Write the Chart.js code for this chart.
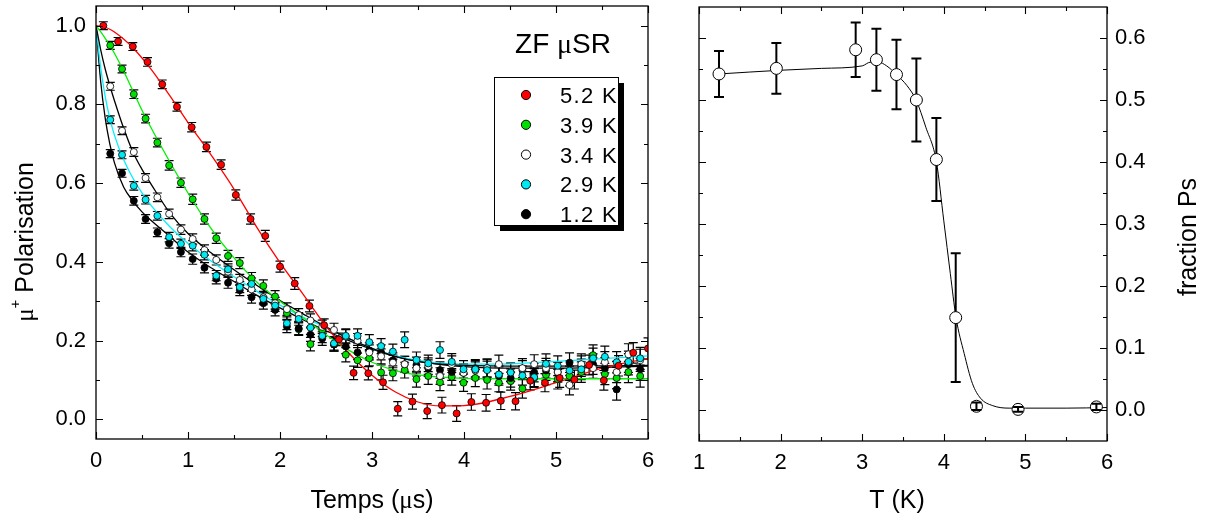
<!DOCTYPE html>
<html><head><meta charset="utf-8">
<script src="https://cdn.jsdelivr.net/npm/chart.js@4.4.1/dist/chart.umd.min.js"></script>
<style>
html,body{margin:0;padding:0;background:#fff;}
#wrap{position:relative;width:1207px;height:521px;overflow:hidden;background:#fff;}
canvas{position:absolute;top:0;}
#cL{left:0;width:670px;height:521px;}
#cR{left:670px;width:537px;height:521px;}
</style></head><body>
<div id="wrap"><canvas id="cL" width="670" height="521"></canvas><canvas id="cR" width="537" height="521"></canvas></div>
<script>
// ---------- data (left panel: ZF muSR polarisation) ----------
const temps = ['5.2 K','3.9 K','3.4 K','2.9 K','1.2 K'];
const tRed = [0.08,0.24,0.40,0.56,0.72,0.88,1.04,1.20,1.36,1.52,1.68,1.84,2.00,2.16,2.32,2.48,2.64,2.80,2.96,3.12,3.28,3.44,3.60,3.76,3.92,4.08,4.24,4.40,4.56,4.72,4.88,5.04,5.20,5.36,5.52,5.68,5.84,6.00];
const p52 = [1.000,0.960,0.947,0.908,0.851,0.794,0.742,0.692,0.647,0.570,0.509,0.466,0.388,0.345,0.288,0.239,0.203,0.118,0.117,0.094,0.027,0.045,0.021,0.036,0.015,0.044,0.042,0.047,0.046,0.098,0.093,0.105,0.101,0.138,0.099,0.136,0.169,0.180];
const e52 = [0.010,0.010,0.010,0.011,0.011,0.011,0.012,0.012,0.012,0.013,0.013,0.014,0.014,0.015,0.015,0.016,0.016,0.017,0.017,0.018,0.018,0.019,0.019,0.020,0.020,0.021,0.021,0.022,0.022,0.023,0.023,0.024,0.024,0.025,0.025,0.026,0.026,0.027];
const tGrid = [0.155,0.283,0.411,0.539,0.667,0.795,0.923,1.051,1.179,1.307,1.435,1.563,1.691,1.819,1.947,2.075,2.203,2.331,2.459,2.587,2.715,2.843,2.971,3.099,3.227,3.355,3.483,3.611,3.739,3.867,3.995,4.123,4.251,4.379,4.507,4.635,4.763,4.891,5.019,5.147,5.275,5.403,5.531,5.659,5.787,5.915];
const eGrid = [0.010,0.010,0.011,0.011,0.011,0.012,0.012,0.013,0.013,0.013,0.014,0.014,0.015,0.015,0.015,0.016,0.016,0.017,0.017,0.017,0.018,0.018,0.019,0.019,0.019,0.020,0.020,0.021,0.021,0.021,0.022,0.022,0.023,0.023,0.023,0.024,0.024,0.025,0.025,0.025,0.026,0.026,0.027,0.027,0.027,0.028];
const p39 = [0.950,0.890,0.826,0.764,0.703,0.645,0.601,0.559,0.509,0.460,0.415,0.397,0.358,0.339,0.312,0.270,0.229,0.191,0.227,0.190,0.164,0.150,0.155,0.119,0.117,0.125,0.102,0.110,0.094,0.108,0.093,0.105,0.100,0.093,0.097,0.078,0.105,0.113,0.102,0.110,0.120,0.163,0.115,0.105,0.120,0.110];
const p34 = [0.846,0.733,0.679,0.613,0.564,0.522,0.482,0.458,0.430,0.405,0.375,0.354,0.330,0.310,0.295,0.280,0.265,0.251,0.235,0.227,0.210,0.200,0.170,0.160,0.144,0.140,0.130,0.135,0.110,0.140,0.118,0.124,0.130,0.140,0.120,0.130,0.140,0.130,0.120,0.087,0.140,0.130,0.145,0.120,0.165,0.150];
const p29 = [0.761,0.672,0.593,0.558,0.517,0.463,0.446,0.441,0.418,0.365,0.381,0.336,0.344,0.306,0.289,0.244,0.255,0.233,0.212,0.193,0.212,0.212,0.196,0.186,0.172,0.202,0.151,0.142,0.176,0.146,0.127,0.127,0.125,0.114,0.119,0.111,0.107,0.141,0.136,0.124,0.127,0.155,0.159,0.145,0.146,0.155];
const p12 = [0.675,0.625,0.555,0.509,0.475,0.447,0.425,0.407,0.385,0.357,0.347,0.328,0.310,0.295,0.278,0.236,0.231,0.215,0.205,0.190,0.185,0.170,0.175,0.170,0.150,0.140,0.138,0.130,0.125,0.120,0.118,0.130,0.130,0.110,0.105,0.125,0.119,0.124,0.120,0.144,0.135,0.140,0.130,0.076,0.140,0.127];
// fitted curves
const fitT  = [0,0.05,0.1,0.15,0.2,0.3,0.4,0.5,0.6,0.8,1.0,1.25,1.5,1.75,2.0,2.25,2.5,2.75,3.0,3.25,3.5,3.75,4.0,4.5,5.0,5.5,6.0];
const fit52 = [1.0,0.999,0.996,0.991,0.984,0.966,0.944,0.918,0.889,0.823,0.754,0.672,0.585,0.487,0.398,0.318,0.237,0.168,0.112,0.070,0.044,0.034,0.035,0.058,0.093,0.130,0.155];
const fit39 = [1.0,0.985,0.968,0.950,0.930,0.885,0.835,0.785,0.740,0.655,0.575,0.485,0.410,0.348,0.300,0.258,0.215,0.175,0.145,0.124,0.113,0.107,0.104,0.103,0.103,0.103,0.103];
const fit34 = [1.0,0.940,0.890,0.848,0.810,0.740,0.680,0.635,0.597,0.525,0.472,0.423,0.380,0.340,0.302,0.268,0.235,0.205,0.180,0.160,0.147,0.140,0.137,0.135,0.135,0.136,0.137];
const fit29 = [1.0,0.895,0.820,0.765,0.722,0.660,0.613,0.575,0.543,0.490,0.447,0.402,0.362,0.325,0.290,0.260,0.233,0.205,0.180,0.162,0.150,0.143,0.140,0.141,0.147,0.154,0.161];
const fit12 = [1.0,0.860,0.765,0.700,0.652,0.590,0.555,0.527,0.505,0.465,0.425,0.385,0.350,0.315,0.283,0.253,0.225,0.200,0.178,0.160,0.147,0.139,0.134,0.130,0.130,0.132,0.135];
// ---------- data (right panel: fraction Ps vs T) ----------
const tempK   = [1.245,1.948,2.92,3.174,3.42,3.664,3.909,4.146,4.40,4.91,5.87];
const fracPs  = [0.542,0.551,0.581,0.565,0.541,0.500,0.404,0.149,0.006,0.001,0.005];
const fracErr = [0.037,0.041,0.044,0.050,0.056,0.067,0.067,0.104,0.006,0.004,0.005];
const fitTK   = [1.245,2.0,2.5,3.0,3.1,3.2,3.3,3.42,3.55,3.66,3.78,3.91,4.0,4.08,4.15,4.25,4.35,4.45,4.6,4.8,5.0,5.5,6.0];
const fitPs   = [0.542,0.548,0.551,0.555,0.561,0.561,0.555,0.541,0.523,0.500,0.456,0.400,0.305,0.220,0.149,0.091,0.043,0.019,0.007,0.003,0.003,0.003,0.004];
// ---------- ticks ----------
const xTicksL = [0,1,2,3,4,5,6];
const xMinorL = [0.5,1.5,2.5,3.5,4.5,5.5];
const yTicksL = [0,0.2,0.4,0.6,0.8,1.0];
const yMinorL = [0.1,0.3,0.5,0.7,0.9];
const xTicksR = [1,2,3,4,5,6];
const xMinorR = [1.5,2.5,3.5,4.5,5.5];
const yTicksR = [0,0.1,0.2,0.3,0.4,0.5,0.6];
const yMinorR = [0.05,0.15,0.25,0.35,0.45,0.55];

const SANS = "'Liberation Sans', Arial, sans-serif";
const SERIF = "'Liberation Serif', 'Times New Roman', serif";
Chart.defaults.font.family = SANS;
Chart.defaults.color = '#000';
const COL = {red:'#ff0000', green:'#00e000', white:'#ffffff', cyan:'#00e8f2', black:'#000000'};
const LINE = {red:'#ff0000', green:'#00f000', cyan:'#00f0ff', black:'#000000'};

const pts = (xs, ys) => xs.map((x,i)=>({x, y: ys[i]}));

// ---------- plugins ----------
const frameTicks = {
  id:'frameTicks',
  afterDatasetsDraw(chart, args, o){
    const {ctx, chartArea:a, scales} = chart;
    const xs = scales.x, ys = scales.y;
    ctx.save();
    ctx.strokeStyle = '#000'; ctx.lineWidth = 1.3;
    ctx.strokeRect(a.left, a.top, a.right-a.left, a.bottom-a.top);
    ctx.lineWidth = 1.1;
    ctx.beginPath();
    const vx = (vals,len)=>vals.forEach(v=>{const p=Math.round(xs.getPixelForValue(v))+0.5;
      ctx.moveTo(p,a.bottom); ctx.lineTo(p,a.bottom-len); ctx.moveTo(p,a.top); ctx.lineTo(p,a.top+len);});
    const vy = (vals,len)=>vals.forEach(v=>{const p=Math.round(ys.getPixelForValue(v))+0.5;
      ctx.moveTo(a.left,p); ctx.lineTo(a.left+len,p); ctx.moveTo(a.right,p); ctx.lineTo(a.right-len,p);});
    vx(o.xMajor,7); vx(o.xMinor,4); vy(o.yMajor,7); vy(o.yMinor,4);
    ctx.stroke();
    ctx.restore();
  }
};
function drawBars(chart, o){
  const {ctx, chartArea:a} = chart; const ys = chart.scales.y;
  ctx.save();
  ctx.beginPath(); ctx.rect(a.left, a.top, a.right-a.left, a.bottom-a.top); ctx.clip();
  ctx.strokeStyle = '#000'; ctx.lineWidth = o.lw;
  chart.data.datasets.forEach((ds,di)=>{
    if(!ds.errors) return;
    const meta = chart.getDatasetMeta(di);
    meta.data.forEach((el,i)=>{
      const v = ds.data[i].y, e = ds.errors[i];
      const x = el.x, yc = el.y;
      const y1 = ys.getPixelForValue(v+e), y2 = ys.getPixelForValue(v-e);
      ctx.beginPath();
      if(o.front && (yc-y1) > o.r){
        ctx.moveTo(x,y1); ctx.lineTo(x,yc-o.r); ctx.moveTo(x,yc+o.r); ctx.lineTo(x,y2);
      } else { ctx.moveTo(x,y1); ctx.lineTo(x,y2); }
      ctx.moveTo(x-o.cap,y1); ctx.lineTo(x+o.cap,y1);
      ctx.moveTo(x-o.cap,y2); ctx.lineTo(x+o.cap,y2);
      ctx.stroke();
    });
  });
  ctx.restore();
}
const errorBars = {
  id:'errorBars',
  beforeDatasetsDraw(chart,args,o){ if(!o.front) drawBars(chart,o); },
  afterDatasetsDraw(chart,args,o){ if(o.front) drawBars(chart,o); }
};
function drawRuns(ctx, runs, cx, cy){
  let w = 0;
  runs.forEach(r=>{ctx.font=r.f; r.w=ctx.measureText(r.t).width; w+=r.w;});
  let x = cx - w/2;
  ctx.textAlign='left'; ctx.textBaseline='alphabetic'; ctx.fillStyle='#000';
  runs.forEach(r=>{ctx.font=r.f; ctx.fillText(r.t, x, cy+(r.dy||0)); x+=r.w;});
}
const axisTitles = {
  id:'axisTitles',
  afterDraw(chart,args,o){
    const ctx = chart.ctx;
    o.items.forEach(it=>{
      ctx.save();
      ctx.translate(it.x, it.y);
      if(it.rot) ctx.rotate(it.rot);
      drawRuns(ctx, it.runs.map(r=>Object.assign({},r)), 0, 0);
      ctx.restore();
    });
  }
};
const legendBox = {
  id:'legendBox',
  afterDraw(chart,args,o){
    const ctx = chart.ctx;
    ctx.save();
    const {x,y,w,h} = o.box;
    ctx.fillStyle='#000'; ctx.fillRect(x+6,y+6,w,h);
    ctx.fillStyle='#fff'; ctx.fillRect(x,y,w,h);
    ctx.strokeStyle='#000'; ctx.lineWidth=1; ctx.strokeRect(x+0.5,y+0.5,w,h);
    const sets = chart.data.datasets.filter(d=>d.errors);
    sets.forEach((d,i)=>{
      const ry = o.rowY + i*o.step;
      ctx.beginPath(); ctx.arc(o.markX, ry, 4.6, 0, Math.PI*2);
      ctx.fillStyle = d.backgroundColor; ctx.fill();
      ctx.lineWidth = 1; ctx.strokeStyle='#000'; ctx.stroke();
      ctx.fillStyle='#000'; ctx.font = `22px ${SANS}`;
      if ('letterSpacing' in ctx) ctx.letterSpacing = '1.3px';
      ctx.textAlign='left'; ctx.textBaseline='alphabetic';
      ctx.fillText(d.label, o.textX, ry+8);
      if ('letterSpacing' in ctx) ctx.letterSpacing = '0px';
    });
    ctx.restore();
  }
};

const tickFont = {size:22, family:SANS};
function scaleX(min,max,ticksArr,height){
  return {type:'linear', min, max,
    grid:{display:false, drawTicks:false}, border:{display:false},
    ticks:{font:tickFont, color:'#000', padding:9, autoSkip:false, maxRotation:0, callback:v=>String(v)},
    afterBuildTicks:s=>{s.ticks = ticksArr.map(v=>({value:v}));},
    afterFit:s=>{s.height=height; s.paddingLeft=0; s.paddingRight=0;}};
}
function scaleY(min,max,ticksArr,width,pos,pad){
  return {type:'linear', min, max, position:pos,
    grid:{display:false, drawTicks:false}, border:{display:false},
    ticks:{font:tickFont, color:'#000', padding:pad, autoSkip:false, callback:v=>v.toFixed(1)},
    afterBuildTicks:s=>{s.ticks = ticksArr.map(v=>({value:v}));},
    afterFit:s=>{s.width=width; s.paddingTop=0; s.paddingBottom=0;}};
}

const ptDs = (label, t, p, e, fill, order) => ({label, data:pts(t,p), errors:e,
  backgroundColor:fill, borderColor:'#000', borderWidth:0.8, pointRadius:3.5, pointHoverRadius:3.5, showLine:false, order});
const fitDs = (t, p, color) => ({data:pts(t,p), showLine:true, pointRadius:0, borderColor:color,
  borderWidth:1.3, cubicInterpolationMode:'monotone', fill:false, order:10});

new Chart(document.getElementById('cL'), {
  type:'scatter',
  data:{datasets:[
    ptDs(temps[0], tRed, p52, e52, COL.red, 1),
    ptDs(temps[1], tGrid, p39, eGrid, COL.green, 5),
    ptDs(temps[2], tGrid, p34, eGrid, COL.white, 3),
    ptDs(temps[3], tGrid, p29, eGrid, COL.cyan, 2),
    ptDs(temps[4], tGrid, p12, eGrid, COL.black, 4),
    fitDs(fitT, fit52, LINE.red),
    fitDs(fitT, fit39, LINE.green),
    fitDs(fitT, fit34, LINE.black),
    fitDs(fitT, fit29, LINE.cyan),
    fitDs(fitT, fit12, LINE.black)
  ]},
  options:{
    responsive:false, animation:false, devicePixelRatio:1, events:[],
    layout:{padding:{left:0,right:22,top:6,bottom:0}},
    plugins:{
      legend:{display:false}, tooltip:{enabled:false},
      frameTicks:{xMajor:xTicksL, xMinor:xMinorL, yMajor:yTicksL, yMinor:yMinorL},
      errorBars:{front:false, lw:1.2, cap:4.5, r:3.5},
      legendBox:{box:{x:494,y:77,w:124,h:148}, markX:526, textX:560, rowY:95, step:29.8},
      axisTitles:{items:[
        {x:372, y:508, runs:[{t:'Temps (', f:`25px ${SANS}`},{t:'μ', f:`25px ${SERIF}`},{t:'s)', f:`25px ${SANS}`}]},
        {x:33, y:242, rot:-Math.PI/2, runs:[{t:'μ', f:`25px ${SERIF}`},{t:'+', f:`15px ${SANS}`, dy:-13},{t:' Polarisation', f:`25px ${SANS}`}]},
        {x:563, y:53, runs:[{t:'ZF ', f:`28px ${SANS}`},{t:'μ', f:`28px ${SERIF}`},{t:'SR', f:`28px ${SANS}`}]}
      ]}
    },
    scales:{
      x: scaleX(0,6,xTicksL,82),
      y: scaleY(-0.05,1.05,yTicksL,96,'left',10)
    }
  },
  plugins:[errorBars, frameTicks, legendBox, axisTitles]
});

new Chart(document.getElementById('cR'), {
  type:'scatter',
  data:{datasets:[
    {label:'fraction Ps', data:pts(tempK, fracPs), errors:fracErr, backgroundColor:'#fff', borderColor:'#000',
     borderWidth:1, pointRadius:6, pointHoverRadius:6, showLine:false, order:1},
    {data:pts(fitTK, fitPs), showLine:true, pointRadius:0, borderColor:'#000', borderWidth:1,
     cubicInterpolationMode:'monotone', fill:false, order:2}
  ]},
  options:{
    responsive:false, animation:false, devicePixelRatio:1, events:[],
    layout:{padding:{left:29,right:0,top:6,bottom:0}},
    plugins:{
      legend:{display:false}, tooltip:{enabled:false},
      frameTicks:{xMajor:xTicksR, xMinor:xMinorR, yMajor:yTicksR, yMinor:yMinorR},
      errorBars:{front:true, lw:2, cap:5, r:6},
      axisTitles:{items:[
        {x:227, y:508, runs:[{t:'T (K)', f:`25px ${SANS}`}]},
        {x:525.5, y:237, rot:-Math.PI/2, runs:[{t:'fraction Ps', f:`25px ${SANS}`}]}
      ]}
    },
    scales:{
      x: scaleX(1,6,xTicksR,80),
      y: scaleY(-0.05,0.65,yTicksR,100,'right',8)
    }
  },
  plugins:[errorBars, frameTicks, axisTitles]
});
</script>
</body></html>
